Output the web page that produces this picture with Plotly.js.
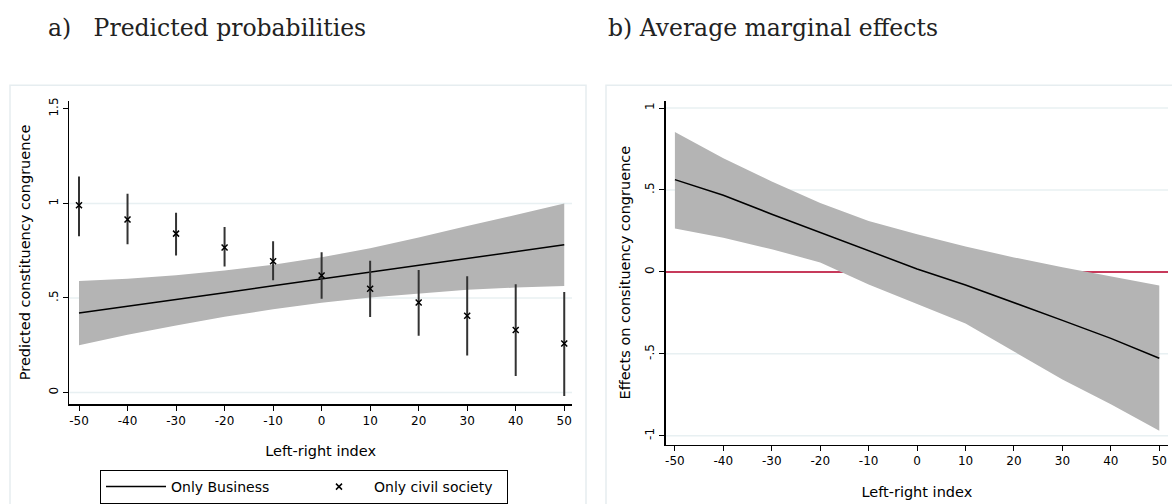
<!DOCTYPE html>
<html>
<head>
<meta charset="utf-8">
<script src="https://cdn.plot.ly/plotly-3.0.1.min.js"></script>
<style>html,body{margin:0;padding:0;background:#fff}#chart{width:1172px;height:504px}</style>
</head>
<body>
<div id="chart"></div>
<script>
// ---- data ----
const xIndex = [-50, -40, -30, -20, -10, 0, 10, 20, 30, 40, 50];

// a) Predicted probabilities — Only Business (fit + 95% CI)
const businessFit   = [0.420, 0.455, 0.490, 0.528, 0.564, 0.600, 0.636, 0.674, 0.712, 0.746, 0.781];
const businessUpper = [0.589, 0.601, 0.620, 0.645, 0.676, 0.715, 0.763, 0.819, 0.880, 0.938, 0.999];
const businessLower = [0.250, 0.305, 0.355, 0.400, 0.440, 0.475, 0.503, 0.525, 0.543, 0.555, 0.563];

// a) Only civil society (point + CI)
const civil      = [0.990, 0.915, 0.840, 0.767, 0.694, 0.619, 0.549, 0.476, 0.406, 0.331, 0.259];
const civilUpper = [1.142, 1.051, 0.950, 0.875, 0.800, 0.741, 0.697, 0.648, 0.615, 0.573, 0.531];
const civilLower = [0.826, 0.784, 0.725, 0.666, 0.593, 0.496, 0.399, 0.300, 0.196, 0.088, -0.018];

// b) Average marginal effects (fit + 95% CI)
const ameFit   = [0.563, 0.468, 0.352, 0.240, 0.130, 0.018, -0.080, -0.186, -0.296, -0.406, -0.527];
const ameUpper = [0.854, 0.693, 0.552, 0.421, 0.310, 0.229, 0.155, 0.088, 0.028, -0.029, -0.083];
const ameLower = [0.265, 0.209, 0.138, 0.058, -0.077, -0.194, -0.315, -0.486, -0.657, -0.808, -0.970];

const yTicksA = [0, 0.5, 1, 1.5];
const yTickTextA = ['0', '.5', '1', '1.5'];
const yGridA = [0, 0.5, 1];
const yTicksB = [-1, -0.5, 0, 0.5, 1];
const yTickTextB = ['-1', '-.5', '0', '.5', '1'];
const xTickText = ['-50', '-40', '-30', '-20', '-10', '0', '10', '20', '30', '40', '50'];

// ---- styling ----
const W = 1172, H = 504;
const px = v => v / W;
const py = v => 1 - v / H;
const SANS = 'DejaVu Sans, Arial, sans-serif';
const SERIF = 'DejaVu Serif, serif';
const BAND = '#b4b4b4';

const traces = [];
// panel a band
traces.push({x: xIndex, y: businessLower, xaxis: 'x', yaxis: 'y', mode: 'lines',
  line: {width: 0, color: BAND}, showlegend: false, hoverinfo: 'skip'});
traces.push({x: xIndex, y: businessUpper, xaxis: 'x', yaxis: 'y', mode: 'lines',
  fill: 'tonexty', fillcolor: BAND, line: {width: 0, color: BAND}, showlegend: false, hoverinfo: 'skip'});
traces.push({x: xIndex, y: businessFit, xaxis: 'x', yaxis: 'y', mode: 'lines',
  name: 'Only Business', legendrank: 1, line: {color: '#000', width: 1.5}});
traces.push({x: xIndex, y: civil, xaxis: 'x', yaxis: 'y', mode: 'markers',
  name: 'Only civil society', legendrank: 2,
  marker: {symbol: 'x-thin-open', size: 6, color: '#000', line: {color: '#000', width: 1.5}},
  error_y: {type: 'data', symmetric: false,
    array: civilUpper.map((u, i) => u - civil[i]),
    arrayminus: civil.map((c, i) => c - civilLower[i]),
    width: 0, thickness: 2, color: '#333'}});
// panel b
traces.push({x: xIndex, y: ameLower, xaxis: 'x2', yaxis: 'y2', mode: 'lines',
  line: {width: 0, color: BAND}, showlegend: false, hoverinfo: 'skip'});
traces.push({x: xIndex, y: ameUpper, xaxis: 'x2', yaxis: 'y2', mode: 'lines',
  fill: 'tonexty', fillcolor: BAND, line: {width: 0, color: BAND}, showlegend: false, hoverinfo: 'skip'});
traces.push({x: xIndex, y: ameFit, xaxis: 'x2', yaxis: 'y2', mode: 'lines',
  line: {color: '#000', width: 1.5}, showlegend: false});

const shapes = [];
const GRID = '#e8f0f2';
yGridA.forEach(v => shapes.push({type: 'line', xref: 'x domain', yref: 'y', x0: 0, x1: 1, y0: v, y1: v,
  line: {color: GRID, width: 1.5}, layer: 'below'}));
yTicksB.forEach(v => shapes.push({type: 'line', xref: 'x2 domain', yref: 'y2', x0: 0, x1: 1, y0: v, y1: v,
  line: {color: GRID, width: 1.5}, layer: 'below'}));
// zero reference line panel b
shapes.push({type: 'line', xref: 'x2 domain', yref: 'y2', x0: 0, x1: 1, y0: 0, y1: 0,
  line: {color: '#c73a5b', width: 2}, layer: 'below'});
// panel frames
shapes.push({type: 'rect', xref: 'paper', yref: 'paper', x0: px(10), x1: px(586), y0: py(510), y1: py(86),
  line: {color: '#e6edf0', width: 1.5}, layer: 'below'});
shapes.push({type: 'rect', xref: 'paper', yref: 'paper', x0: px(606), x1: px(1185), y0: py(510), y1: py(86),
  line: {color: '#e6edf0', width: 1.5}, layer: 'below'});

const axisCommon = {showline: true, linecolor: '#000', linewidth: 1.5, ticks: 'outside', ticklen: 5,
  tickwidth: 1, tickcolor: '#000', showgrid: false, zeroline: false,
  tickfont: {family: SANS, size: 12, color: '#000'}};
const titleFont = {family: SANS, size: 14.5, color: '#000'};

const layout = {
  width: W, height: H,
  margin: {l: 0, r: 0, t: 0, b: 0},
  paper_bgcolor: '#fff', plot_bgcolor: 'rgba(0,0,0,0)',
  showlegend: true,
  xaxis: Object.assign({}, axisCommon, {domain: [px(69.3), px(572)], range: [-52, 51.6], anchor: 'y',
    tickvals: xIndex, ticktext: xTickText,
    title: {text: 'Left-right index', font: titleFont, standoff: 18}}),
  yaxis: Object.assign({}, axisCommon, {domain: [py(408.3), py(101.7)], range: [-0.062, 1.543], anchor: 'x',
    tickvals: yTicksA, ticktext: yTickTextA, tickangle: -90,
    title: {text: 'Predicted constituency congruence', font: titleFont, standoff: 13}}),
  xaxis2: Object.assign({}, axisCommon, {domain: [px(665.7), px(1168)], range: [-51.9, 51.8], anchor: 'y2',
    tickvals: xIndex, ticktext: xTickText,
    title: {text: 'Left-right index', font: titleFont, standoff: 19}}),
  yaxis2: Object.assign({}, axisCommon, {domain: [py(449), py(101.7)], range: [-1.054, 1.045], anchor: 'x2',
    tickvals: yTicksB, ticktext: yTickTextB, tickangle: -90,
    title: {text: 'Effects on consituency congruence', font: titleFont, standoff: 9}}),
  legend: {orientation: 'h', x: px(100), xanchor: 'left', y: py(475), yanchor: 'top',
    bordercolor: '#000', borderwidth: 1, bgcolor: '#fff', traceorder: 'normal',
    font: {family: SANS, size: 14, color: '#000'}, entrywidth: 128, itemwidth: 60},
  shapes: shapes,
  annotations: [
    {xref: 'paper', yref: 'paper', x: px(46), y: py(28), xanchor: 'left', yanchor: 'middle', showarrow: false,
      text: 'a)   Predicted probabilities', font: {family: SERIF, size: 23.5, color: '#222'}},
    {xref: 'paper', yref: 'paper', x: px(606), y: py(28), xanchor: 'left', yanchor: 'middle', showarrow: false,
      text: 'b) Average marginal effects', font: {family: SERIF, size: 23.5, color: '#222'}}
  ]
};

Plotly.newPlot('chart', traces, layout, {displayModeBar: false, staticPlot: true});
</script>
</body>
</html>
